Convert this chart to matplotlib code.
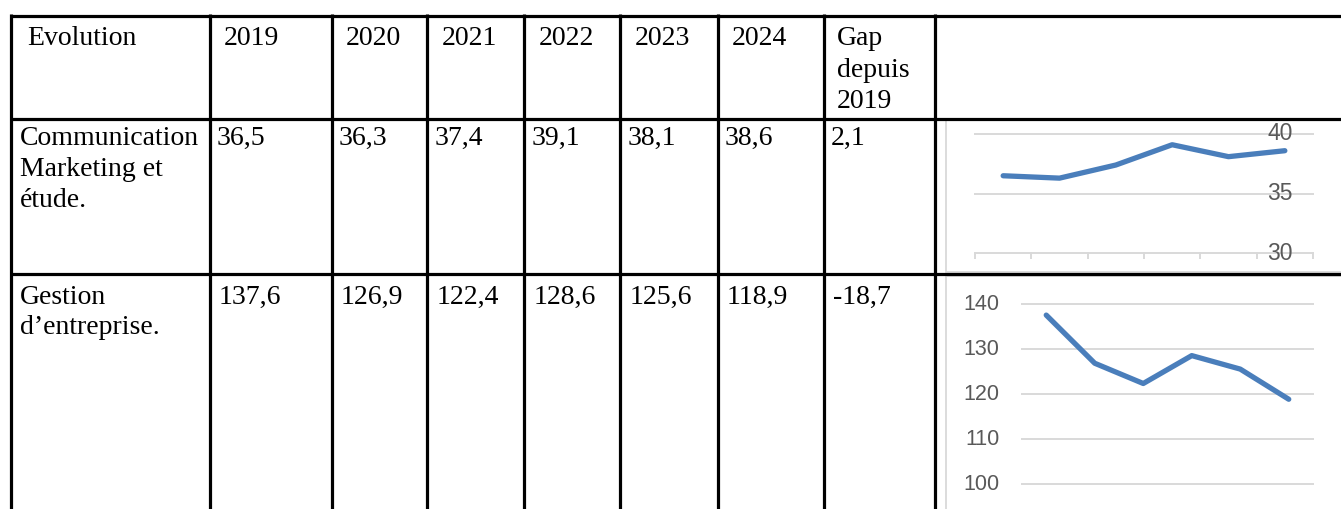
import matplotlib
matplotlib.use("Agg")
import matplotlib.pyplot as plt
from matplotlib.patches import Rectangle

# ---- data ----
years = ["2019", "2020", "2021", "2022", "2023", "2024"]
header_first = "Evolution"
header_gap = ["Gap", "depuis", "2019"]
row_labels = [["Communication", "Marketing et", "étude."],
              ["Gestion", "d\u2019entreprise."]]
comm_values = [36.5, 36.3, 37.4, 39.1, 38.1, 38.6]
gest_values = [137.6, 126.9, 122.4, 128.6, 125.6, 118.9]
gaps = [2.1, -18.7]
comm_ticks = [30, 35, 40]
gest_ticks = [100, 110, 120, 130, 140]

W, H = 1341, 509
fig = plt.figure(figsize=(W / 100, H / 100), dpi=100)
bg = fig.add_axes([0, 0, 1, 1])
bg.set_xlim(0, W)
bg.set_ylim(H, 0)
bg.axis("off")

def fmt(v):
    return ("%.1f" % v).replace(".", ",")

# ---- table grid ----
lw = 2.3
col_x = [11.5, 210, 332, 427.5, 524.5, 620.5, 718, 824, 935.5]
row_y = [15.5, 118.5, 273.5]
for y in row_y:
    bg.plot([10, W + 5], [y, y], color="black", lw=lw, solid_capstyle="butt")
for x in col_x:
    bg.plot([x, x], [14, H + 5], color="black", lw=lw, solid_capstyle="butt")

serif = "Liberation Serif"
fs = 20
tkw = dict(family=serif, fontsize=fs, color="black", va="baseline", ha="left")

# header
bg.text(27, 45, header_first, **tkw)
for i, yr in enumerate(years):
    bg.text(col_x[i + 1] + 14, 45, yr, **tkw)
for j, s in enumerate(header_gap):
    bg.text(col_x[7] + 13, 45 + j * 31.5, s, **tkw)

# rows
row_base = [145, 303.5]
row_off = [7, 9]
all_vals = [comm_values, gest_values]
for r in range(2):
    for j, s in enumerate(row_labels[r]):
        bg.text(20, row_base[r] + j * 30.8, s, **tkw)
    for i, v in enumerate(all_vals[r]):
        bg.text(col_x[i + 1] + row_off[r], row_base[r], fmt(v), **tkw)
    bg.text(col_x[7] + row_off[r], row_base[r], fmt(gaps[r]), **tkw)

# chart frames
frame_c = "#d9d9d9"
bg.add_patch(Rectangle((945.7, 119.5), 420, 152, fill=False, ec=frame_c, lw=1.3))
bg.add_patch(Rectangle((945.7, 275.5), 420, 260, fill=False, ec=frame_c, lw=1.3))

line_c = "#4a7ebb"
grid_c = "#d9d9d9"
lab_c = "#595959"
sans = "Liberation Sans"

def fig_rect(x0, x1, y_top, y_bot):
    return [x0 / W, (H - y_bot) / H, (x1 - x0) / W, (y_bot - y_top) / H]

# chart 1: Communication
ax1 = fig.add_axes(fig_rect(975, 1313, 134, 253.3))
ax1.set_xlim(0, len(comm_values))
ax1.set_ylim(comm_ticks[0], comm_ticks[-1])
ax1.axis("off")
for t in comm_ticks:
    ax1.plot([0, len(comm_values)], [t, t], color=grid_c, lw=1.4, clip_on=False, zorder=1)
tick_len = (comm_ticks[-1] - comm_ticks[0]) * 5 / 119.3
for k in range(len(comm_values) + 1):
    ax1.plot([k, k], [comm_ticks[0], comm_ticks[0] - tick_len], color=grid_c, lw=1.4, clip_on=False)
for t in comm_ticks:
    ax1.text(5.41, t, str(t), family=sans, fontsize=16.5, color=lab_c,
             ha="center", va="center", zorder=3)
xs = [i + 0.5 for i in range(len(comm_values))]
ax1.plot(xs, comm_values, color=line_c, lw=3.8, solid_capstyle="round",
         solid_joinstyle="round", clip_on=False, zorder=2)

# chart 2: Gestion
ax2 = fig.add_axes(fig_rect(1022, 1313, 304.3, 484.3))
ax2.set_xlim(0, len(gest_values))
ax2.set_ylim(gest_ticks[0], gest_ticks[-1])
ax2.axis("off")
for t in gest_ticks:
    ax2.plot([0, len(gest_values)], [t, t], color=grid_c, lw=1.4, clip_on=False, zorder=1)
    ax2.text(-0.47, t, str(t), family=sans, fontsize=15.5, color=lab_c,
             ha="right", va="center")
xs2 = [i + 0.5 for i in range(len(gest_values))]
ax2.plot(xs2, gest_values, color=line_c, lw=3.8, solid_capstyle="round",
         solid_joinstyle="round", clip_on=False, zorder=2)

fig.savefig("out.png", dpi=100)
